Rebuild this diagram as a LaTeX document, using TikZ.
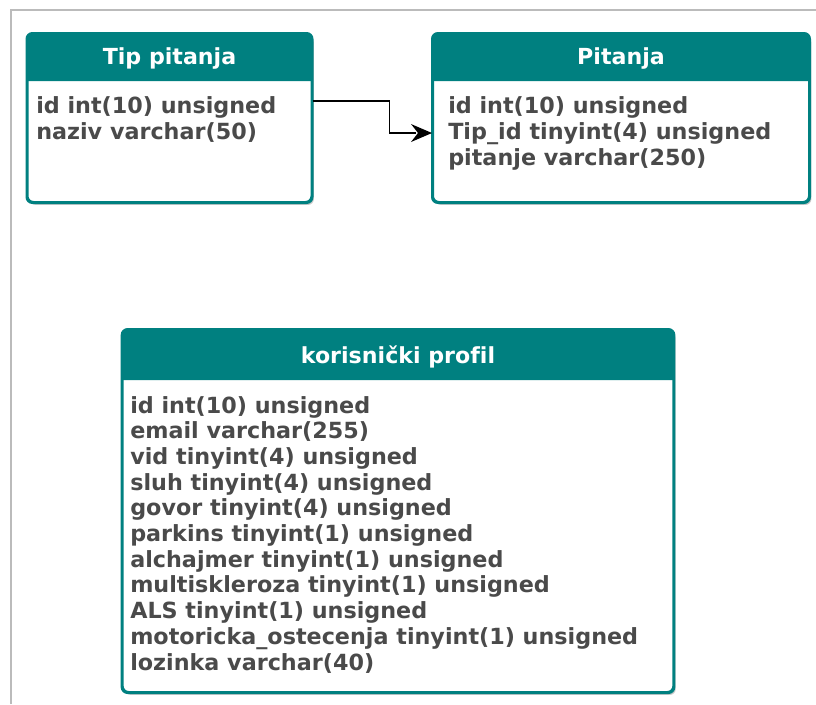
\documentclass[tikz,border=0pt]{standalone}
\usepackage{fontspec}
\setmainfont{DejaVu Sans}[Ligatures=NoCommon]
\usetikzlibrary{shadows,calc,arrows.meta}
\definecolor{teal1}{HTML}{008080}
\definecolor{txt}{HTML}{4A4A4A}
\definecolor{framec}{HTML}{BBBBBB}
\begin{document}
\begin{tikzpicture}[x=0.75pt,y=-0.75pt,
  tbl/.style={draw=teal1, line width=1.5pt, rounded corners=4.5pt, fill=white,
    inner sep=0pt, drop shadow={shadow xshift=1.8pt, shadow yshift=-2.2pt, opacity=0.3, fill=black!70}},
  hdr/.style={fill=teal1},
  htxt/.style={font=\fontsize{16.6}{19.5}\selectfont\bfseries, text=white, inner sep=0pt},
  row/.style={font=\fontsize{16.7}{19.5}\selectfont\bfseries, text=txt, inner sep=0pt, anchor=base west},
  conn/.style={draw=black, line width=0.9pt},
  tiphead/.style={fill=black}
]
\useasboundingbox (0,0) rectangle (816,704);
\draw[framec, line width=1.2pt] (11,704) -- (11,10) -- (816,10);

% Tip pitanja
\node[tbl, minimum width=213pt, minimum height=126pt] (tip) at (169.5,118) {};
\fill[hdr] ($(tip.north west)+(0,48)$) [rounded corners=4.5pt] -- (tip.north west) -- (tip.north east) [sharp corners] -- ($(tip.north east)+(0,48)$) -- cycle;
\draw[teal1, line width=1.5pt, rounded corners=4.5pt] (tip.north west) rectangle (tip.south east);
\node[htxt] (tiph) at (169.5,58) {Tip pitanja};
\node[row] (t1) at (36,113) {id int(10) unsigned};
\node[row] (t2) at (36,139) {naziv varchar(50)};

% Pitanja
\node[tbl, minimum width=282pt, minimum height=126pt] (pit) at (621,118) {};
\fill[hdr] ($(pit.north west)+(0,48)$) [rounded corners=4.5pt] -- (pit.north west) -- (pit.north east) [sharp corners] -- ($(pit.north east)+(0,48)$) -- cycle;
\draw[teal1, line width=1.5pt, rounded corners=4.5pt] (pit.north west) rectangle (pit.south east);
\node[htxt] (pith) at (621,58) {Pitanja};
\node[row] (p1) at (448,113) {id int(10) unsigned};
\node[row] (p2) at (448,139) {Tip\_id tinyint(4) unsigned};
\node[row] (p3) at (448,165) {pitanje varchar(250)};

% korisnicki profil
\node[tbl, minimum width=413pt, minimum height=271.5pt] (kp) at (398,511) {};
\fill[hdr] ($(kp.north west)+(0,51)$) [rounded corners=4.5pt] -- (kp.north west) -- (kp.north east) [sharp corners] -- ($(kp.north east)+(0,51)$) -- cycle;
\draw[teal1, line width=1.5pt, rounded corners=4.5pt] (kp.north west) rectangle (kp.south east);
\node[htxt] (kph) at (398,357) {korisnički profil};
\node[row] (k1) at (130,413) {id int(10) unsigned};
\node[row] (k2) at (130,438.7) {email varchar(255)};
\node[row] (k3) at (130,464.4) {vid tinyint(4) unsigned};
\node[row] (k4) at (130,490.1) {sluh tinyint(4) unsigned};
\node[row] (k5) at (130,515.8) {govor tinyint(4) unsigned};
\node[row] (k6) at (130,541.5) {parkins tinyint(1) unsigned};
\node[row] (k7) at (130,567.2) {alchajmer tinyint(1) unsigned};
\node[row] (k8) at (130,592.9) {multiskleroza tinyint(1) unsigned};
\node[row] (k9) at (130,618.6) {ALS tinyint(1) unsigned};
\node[row] (k10) at (130,644.3) {motoricka\_ostecenja tinyint(1) unsigned};
\node[row] (k11) at (130,670) {lozinka varchar(40)};

% connector
\coordinate (cs) at ($(tip.north east)+(0,68)$);
\coordinate (ce) at ($(pit.north west)+(0,100)$);
\coordinate (cb) at ($(ce)+(-16,0)$);
\draw[conn] (cs) -- ($(cs)+(77,0)$) |- (cb);
\fill[tiphead] (ce) -- ($(ce)+(-21,-9)$) -- ($(ce)+(-14,0)$) -- ($(ce)+(-21,9)$) -- cycle;
\end{tikzpicture}
\end{document}
